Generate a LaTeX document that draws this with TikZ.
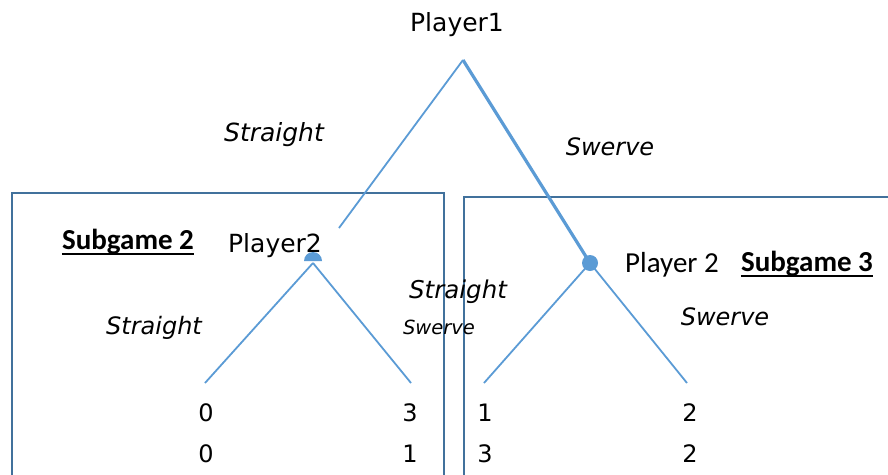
\documentclass[tikz,border=0pt]{standalone}
\usepackage{fontspec}
\setmainfont{Carlito}
\newfontfamily\pix{DejaVu Sans}
\definecolor{branchblue}{HTML}{5B9BD5}
\definecolor{boxblue}{HTML}{41719C}
\begin{document}
\begin{tikzpicture}[x=1pt,y=-1pt,
  branch/.style={draw=branchblue,line width=1.8pt},
  thickbranch/.style={draw=branchblue,line width=3.2pt},
  subbox/.style={draw=boxblue,line width=1.3pt},
  pixlabel/.style={inner sep=0pt,font=\pix\fontsize{25}{28}\selectfont},
  movelabel/.style={inner sep=0pt,font=\pix\itshape\fontsize{24}{28}\selectfont},
  payoff/.style={inner sep=0pt,font=\pix\fontsize{24}{28}\selectfont},
  calib/.style={inner sep=0pt,font=\fontsize{29}{32}\selectfont},
  calibbold/.style={inner sep=0pt,font=\bfseries\fontsize{29}{32}\selectfont},
  uline/.style={draw=black,line width=1.9pt}]
\useasboundingbox (0,0) rectangle (888,474);
% subgame boxes
\draw[subbox] (12,480) -- (12,193) -- (444,193) -- (444,480);
\draw[subbox] (464,480) -- (464,197) -- (892,197);
% coordinates
\coordinate (root) at (463,60);
\coordinate (lend) at (339,228);
\coordinate (ln) at (313,263);
\coordinate (rn) at (590,263);
\coordinate (ll) at (205,383);
\coordinate (lr) at (411,383);
\coordinate (rl) at (484,383);
\coordinate (rr) at (687,383);
% branches
\draw[branch] (root) -- (lend);
\draw[thickbranch] (root) -- (rn);
\draw[branch] (ln) -- (ll);
\draw[branch] (ln) -- (lr);
\draw[branch] (rn) -- (rl);
\draw[branch] (rn) -- (rr);
% decision nodes
\fill[branchblue] (304,261) arc[start angle=180,end angle=360,radius=9] -- cycle;
\fill[branchblue] (rn) circle[radius=8];
% labels
\node[pixlabel] (p1) at (457,25) {Player1};
\node[pixlabel] (p2l) at (275,246) {Player2};
\node[calib] (p2r) at (672,265) {Player 2};
\node[calibbold] (sg2) at (128,242) {Subgame 2};
\node[calibbold] (sg3) at (807,264) {Subgame 3};
\draw[uline] ([yshift=-4pt]sg2.base west) -- ([yshift=-4pt]sg2.base east);
\draw[uline] ([yshift=-4pt]sg3.base west) -- ([yshift=-4pt]sg3.base east);
\node[movelabel,font=\pix\itshape\fontsize{25}{28}\selectfont] (s1) at (274,135) {Straight};
\node[movelabel] (w1) at (610,147) {Swerve};
\node[movelabel] (s2) at (154,328) {Straight};
\node[movelabel,font=\pix\itshape\fontsize{19.5}{22}\selectfont] (w2) at (439,327) {Swerve};
\node[movelabel,font=\pix\itshape\fontsize{24.5}{28}\selectfont] (s3) at (458,292) {Straight};
\node[movelabel] (w3) at (725,317) {Swerve};
% payoffs
\node[payoff] (a1) at (206,413) {0};
\node[payoff] (a2) at (206,454) {0};
\node[payoff] (b1) at (410,413) {3};
\node[payoff] (b2) at (410,454) {1};
\node[payoff] (c1) at (485,413) {1};
\node[payoff] (c2) at (485,454) {3};
\node[payoff] (d1) at (690,413) {2};
\node[payoff] (d2) at (690,454) {2};
\end{tikzpicture}
\end{document}
